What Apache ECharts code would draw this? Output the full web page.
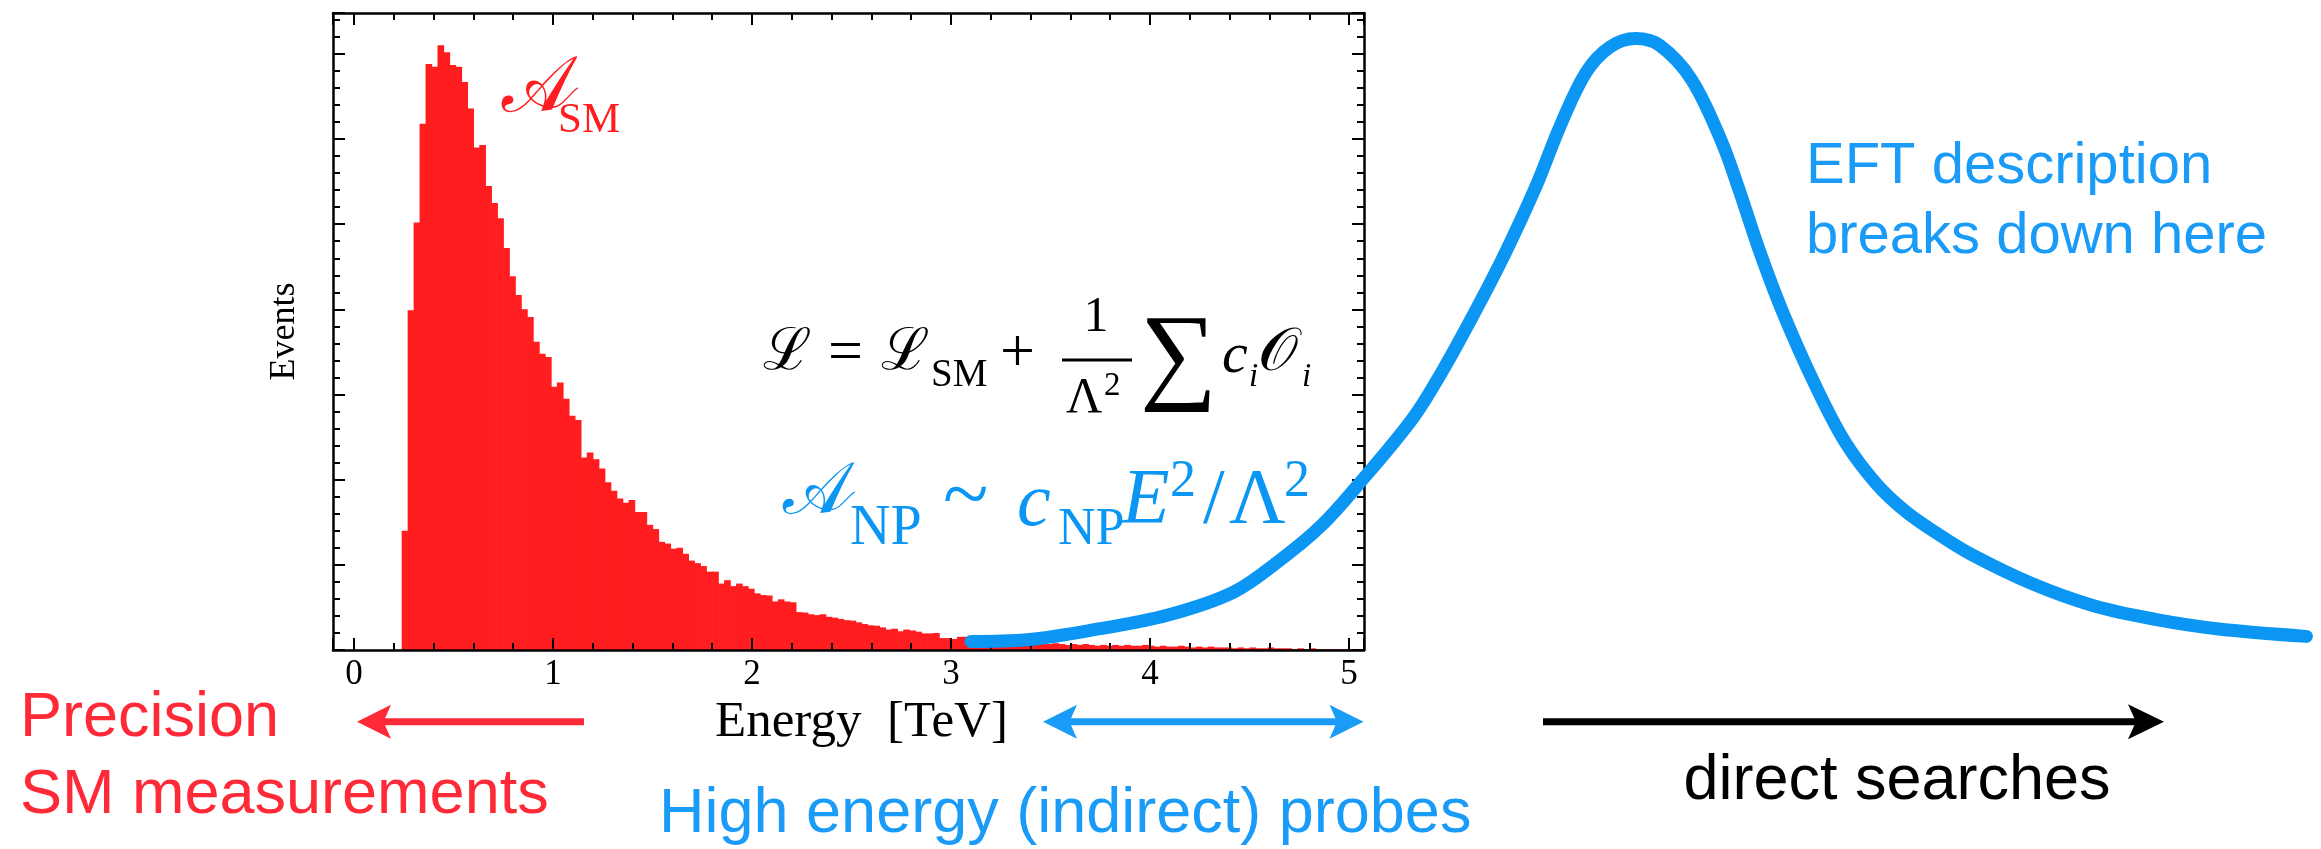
<!DOCTYPE html>
<html><head><meta charset="utf-8">
<script src="https://cdn.jsdelivr.net/npm/echarts@6/dist/echarts.min.js"></script>
<style>html,body{margin:0;padding:0;background:#fff}#c{width:2321px;height:849px}</style>
</head><body><div id="c"></div>
<script>
// ---------------- data ----------------
const binStart = 0.24;   // TeV, left edge of first histogram bin
const binWidth = 0.03;   // TeV
const smCounts = [
 1.40,3.99,5.02,6.18,6.88,6.85,7.10,7.02,6.87,6.85,
 6.67,6.36,5.90,5.93,5.45,5.25,5.07,4.72,4.39,4.17,
 4.00,3.91,3.62,3.48,3.44,3.09,3.14,2.95,2.75,2.70,
 2.26,2.32,2.24,2.13,1.97,1.87,1.78,1.73,1.76,1.62,
 1.62,1.47,1.42,1.27,1.25,1.19,1.20,1.13,1.05,1.02,
 0.985,0.92,0.92,0.78,0.82,0.75,0.78,0.75,0.72,0.665,
 0.645,0.64,0.57,0.595,0.57,0.56,0.445,0.44,0.42,0.41,
 0.42,0.39,0.38,0.365,0.35,0.345,0.325,0.305,0.29,0.285,
 0.265,0.24,0.25,0.22,0.24,0.23,0.215,0.195,0.195,0.20,
 0.14,0.14,0.13,0.155,0.155,0.15,0.14,0.13,0.12,0.13,
 0.11,0.10,0.11,0.09,0.10,0.08,0.09,0.08,0.07,0.08,
 0.07,0.06,0.07,0.06,0.07,0.06,0.05,0.06,0.05,0.06,
 0.05,0.06,0.05,0.05,0.06,0.05,0.04,0.05,0.04,0.04,
 0.05,0.04,0.03,0.04,0.03,0.04,0.03,0.03,0.03,0.02,
 0.03,0.02,0.03,0.02,0.02,0.03,0.02,0.02,0.02,0.01,
 0.02,0.01,0.02,0.01,0.01,0.01,0.01,0.01,0.01
];
const npEnergy = [3.10,3.38,3.75,4.09,4.42,4.65,4.86,5.06,5.32,5.47,5.63,5.78,5.94,6.06,6.19,6.31,6.44,6.56,6.72,6.87,6.96,7.06,7.18,7.34,7.49,7.65,7.80,7.96,8.12,8.43,8.74,9.05,9.36,9.81];
const npRate   = [0.10,0.12,0.25,0.41,0.68,1.05,1.46,1.98,2.72,3.28,3.96,4.64,5.45,6.15,6.78,7.08,7.18,7.10,6.70,5.98,5.40,4.70,3.96,3.12,2.45,1.95,1.62,1.36,1.13,0.78,0.52,0.36,0.25,0.16];
const xTickLabels = ['0','1','2','3','4','5'];
const xRange = [-0.105, 5.075];
const yRange = [0, 7.48];

// ---------------- build ----------------
const W = 2321, H = 849;
const PLOT = {left: 333, right: 1364, top: 13, bottom: 650};
const RED_BAR = '#ff1d1f';
const RED_TXT = '#ff2a38';
const BLUE = '#0b96f4';
const BLUE_TXT = '#1a9bf7';
const SERIF = '"Liberation Serif","Times New Roman",serif';
const SANS = '"Liberation Sans",Arial,sans-serif';
const MATH = '"Noto Sans Math","STIX Two Math","Latin Modern Math","DejaVu Serif",serif';

const histData = smCounts.map((v, i) => [binStart + i * binWidth, binStart + (i + 1) * binWidth, v]);
const npData = npEnergy.map((e, i) => [e, npRate[i]]);
// wide overlay grid sharing the same energy scale, so the NP curve can run past the frame
const pxPerTeV = (PLOT.right - PLOT.left) / (xRange[1] - xRange[0]);
const xMaxWide = xRange[0] + (W - PLOT.left) / pxPerTeV;

function txt(s, x, base, size, color, family, opts) {
  opts = opts || {};
  const st = (opts.italic ? 'italic ' : '') + size + 'px ' + family;
  const al = opts.align || 'left';
  return {type: 'text', x: x, y: base - 0.34 * size, z: 100, silent: true,
    style: {text: s, fill: color, font: st, textAlign: al, align: al, textVerticalAlign: 'middle', verticalAlign: 'middle'}};
}
function arrowHead(tipX, y, dir, len, half, color) {
  const b = tipX - dir * len, n = tipX - dir * len * 0.78;
  return {type: 'polygon', z: 100, silent: true, shape: {points: [[tipX, y], [b, y - half], [n, y], [b, y + half]]}, style: {fill: color}};
}
function shaft(x1, x2, y, w, color) {
  return {type: 'line', z: 100, silent: true, shape: {x1: x1, y1: y, x2: x2, y2: y}, style: {stroke: color, lineWidth: w}};
}

const axisCommon = {
  type: 'value', z: 3, gridIndex: 0,
  axisLine: {show: true, onZero: false, lineStyle: {color: '#000', width: 2.5}},
  axisTick: {show: true, inside: true, length: 12, lineStyle: {color: '#000', width: 2}},
  minorTick: {show: true, splitNumber: 5, length: 7, lineStyle: {color: '#000', width: 2}},
  splitLine: {show: false}, minorSplitLine: {show: false}
};
const fmtX = v => {
  const r = Math.round(v);
  return Math.abs(v - r) < 1e-6 && xTickLabels[r] !== undefined ? xTickLabels[r] : '';
};

const chart = echarts.init(document.getElementById('c'), null, {renderer: 'canvas'});
chart.setOption({
  animation: false,
  backgroundColor: '#fff',
  grid: [
    {left: PLOT.left, top: PLOT.top, right: W - PLOT.right, bottom: H - PLOT.bottom, containLabel: false},
    {left: PLOT.left, top: PLOT.top, right: 0, bottom: H - PLOT.bottom, containLabel: false}
  ],
  xAxis: [
    Object.assign({}, axisCommon, {position: 'bottom', min: xRange[0], max: xRange[1], splitNumber: 5,
      axisLabel: {show: true, formatter: fmtX, color: '#000', fontFamily: SERIF, fontSize: 35, margin: 7},
      name: 'Energy  [TeV]', nameLocation: 'middle', nameGap: 46,
      nameTextStyle: {color: '#000', fontFamily: SERIF, fontSize: 51, padding: [0, 0, 0, 26]}}),
    Object.assign({}, axisCommon, {position: 'top', min: xRange[0], max: xRange[1], splitNumber: 5,
      axisLabel: {show: false}}),
    {type: 'value', gridIndex: 1, show: false, min: xRange[0], max: xMaxWide}
  ],
  yAxis: [
    Object.assign({}, axisCommon, {position: 'left', min: yRange[0], max: yRange[1], splitNumber: 7,
      axisLabel: {show: false},
      name: 'Events', nameLocation: 'middle', nameGap: 30,
      nameTextStyle: {color: '#000', fontFamily: SERIF, fontSize: 36}}),
    Object.assign({}, axisCommon, {position: 'right', min: yRange[0], max: yRange[1], splitNumber: 7,
      axisLabel: {show: false}}),
    {type: 'value', gridIndex: 1, show: false, min: yRange[0], max: yRange[1]}
  ],
  series: [
    {
      type: 'custom', name: 'SM', z: 1, xAxisIndex: 0, yAxisIndex: 0,
      data: histData,
      encode: {x: [0, 1], y: 2},
      renderItem: function (params, api) {
        const p0 = api.coord([api.value(0), 0]);
        const p1 = api.coord([api.value(1), api.value(2)]);
        return {type: 'rect', shape: {x: p0[0], y: p1[1], width: p1[0] - p0[0] + 0.7, height: p0[1] - p1[1]},
          style: {fill: RED_BAR}};
      }
    },
    {
      type: 'line', name: 'NP', z: 5, xAxisIndex: 2, yAxisIndex: 2,
      data: npData, smooth: 0.35, showSymbol: false, symbol: 'none', clip: false,
      lineStyle: {color: BLUE, width: 13, cap: 'round', join: 'round'}
    }
  ],
  graphic: [
    // red SM amplitude label
    txt('𝒜', 503, 120, 74, RED_BAR, MATH),
    txt('SM', 558, 135, 43, RED_BAR, SERIF),
    // Lagrangian
    txt('ℒ', 762, 376, 58, '#000', MATH),
    txt('=', 828, 376, 62, '#000', SERIF),
    txt('ℒ', 880, 376, 58, '#000', MATH),
    txt('SM', 931, 389, 39, '#000', SERIF),
    txt('+', 1000, 376, 62, '#000', SERIF),
    txt('1', 1096, 335, 50, '#000', SERIF, {align: 'center'}),
    {type: 'rect', z: 100, silent: true, shape: {x: 1062, y: 358.5, width: 70, height: 3}, style: {fill: '#000'}},
    txt('Λ', 1066, 416, 50, '#000', SERIF),
    txt('2', 1104, 398, 33, '#000', SERIF),
    txt('∑', 1140, 397, 108, '#000', SERIF),
    txt('c', 1222, 376, 58, '#000', SERIF, {italic: true}),
    txt('i', 1249, 389, 33, '#000', SERIF, {italic: true}),
    txt('𝒪', 1259, 377, 58, '#000', MATH),
    txt('i', 1302, 389, 33, '#000', SERIF, {italic: true}),
    // NP amplitude
    txt('𝒜', 784, 522, 70, BLUE, MATH),
    txt('NP', 850, 548, 56, BLUE, SERIF),
    txt('~', 943, 528, 84, BLUE, SERIF),
    txt('c', 1017, 531, 76, BLUE, SERIF, {italic: true}),
    txt('NP', 1058, 548, 52, BLUE, SERIF),
    txt('E', 1122, 528, 78, BLUE, SERIF, {italic: true}),
    txt('2', 1170, 500, 52, BLUE, SERIF),
    txt('/', 1203, 528, 78, BLUE, SERIF),
    txt('Λ', 1229, 528, 78, BLUE, SERIF),
    txt('2', 1284, 500, 52, BLUE, SERIF),
    // side texts
    txt('EFT description', 1806, 187, 58, BLUE_TXT, SANS),
    txt('breaks down here', 1806, 257, 58, BLUE_TXT, SANS),
    txt('Precision', 20, 740, 63, RED_TXT, SANS),
    txt('SM measurements', 20, 817, 63, RED_TXT, SANS),
    txt('High energy (indirect) probes', 659, 836, 63, BLUE_TXT, SANS),
    txt('direct searches', 1897, 803, 63, '#000', SANS, {align: 'center'}),
    // arrows
    shaft(383, 584, 721.7, 7, RED_TXT), arrowHead(357, 721.7, -1, 34, 17, RED_TXT),
    shaft(1069, 1338, 721.7, 7, BLUE_TXT), arrowHead(1043, 721.7, -1, 34, 17, BLUE_TXT), arrowHead(1363.5, 721.7, 1, 34, 17, BLUE_TXT),
    shaft(1543, 2138, 721.7, 7, '#000'), arrowHead(2164, 721.7, 1, 36, 17.5, '#000')
  ]
});
</script>
</body></html>
